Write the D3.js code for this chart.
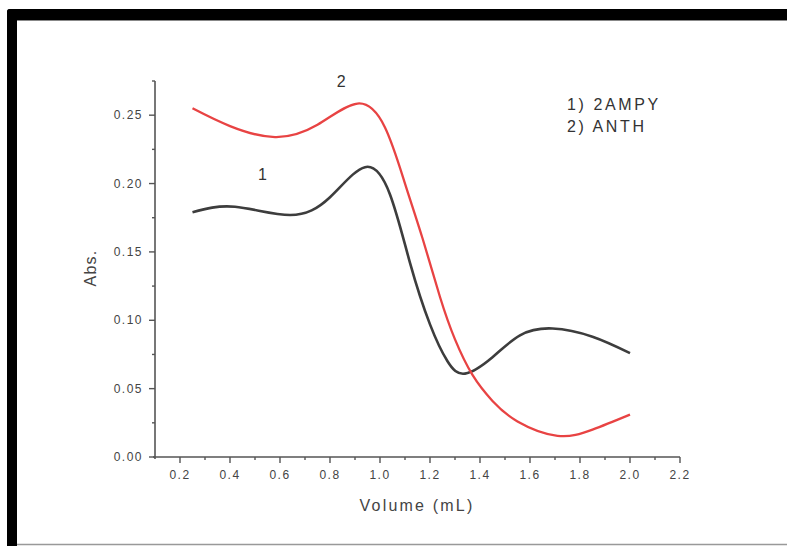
<!DOCTYPE html>
<html>
<head>
<meta charset="utf-8">
<script src="https://cdn.jsdelivr.net/npm/d3@7"></script>
<style>
  body { margin: 0; background: #fff; }
  text { font-family: "Liberation Sans", Arial, sans-serif; }
</style>
</head>
<body>
<div id="chart"></div>
<script>
// series
var volume2ampy = [0.25, 0.42, 0.64, 0.80, 0.94, 1.04, 1.12, 1.20, 1.27, 1.34, 1.45, 1.56, 1.69, 1.85, 2.00];
var abs2ampy    = [0.179, 0.183, 0.177, 0.190, 0.212, 0.192, 0.142, 0.097, 0.070, 0.061, 0.073, 0.089, 0.094, 0.088, 0.076];

var volumeAnth = [0.25, 0.40, 0.58, 0.75, 0.91, 1.02, 1.10, 1.17, 1.24, 1.30, 1.37, 1.45, 1.55, 1.71, 1.85, 2.00];
var absAnth    = [0.255, 0.242, 0.234, 0.243, 0.2585, 0.241, 0.200, 0.160, 0.117, 0.086, 0.060, 0.041, 0.026, 0.0155, 0.020, 0.031];

var xTicks = [0.2, 0.4, 0.6, 0.8, 1.0, 1.2, 1.4, 1.6, 1.8, 2.0, 2.2];
var yTicks = [0.00, 0.05, 0.10, 0.15, 0.20, 0.25];
var legendLines = ["1) 2AMPY", "2) ANTH"];

var width = 787, height = 546;
var margin = {top: 81, left: 155, right: 107, bottom: 89};

var svg = d3.select("#chart").append("svg")
    .attr("width", width)
    .attr("height", height);

// frame: thick black top and left bar, thin grey bottom line
svg.append("rect").attr("x", 7).attr("y", 9).attr("width", width).attr("height", 11)
    .attr("rx", 3).attr("fill", "#000");
svg.append("rect").attr("x", 7).attr("y", 9).attr("width", 10).attr("height", height)
    .attr("rx", 3).attr("fill", "#000");
svg.append("line").attr("x1", 17).attr("x2", width).attr("y1", 20.5).attr("y2", 20.5)
    .attr("stroke", "#888").attr("stroke-width", 1);
svg.append("line").attr("x1", 17).attr("x2", width).attr("y1", 544.5).attr("y2", 544.5)
    .attr("stroke", "#999").attr("stroke-width", 1.5);

var x = d3.scaleLinear().domain([0.1, 2.2]).range([margin.left, width - margin.right]);
var y = d3.scaleLinear().domain([0, 0.275]).range([height - margin.bottom, margin.top]);

var axisColor = "#555";
var labelColor = "#444";

// x axis
var xAxis = svg.append("g").attr("transform", "translate(0," + y(0) + ")");
xAxis.append("line").attr("x1", x(0.1) - 2).attr("x2", x(2.2))
    .attr("stroke", axisColor).attr("stroke-width", 1.6);
var xMinor = d3.range(0.3, 2.2, 0.2);
xAxis.selectAll(".xminor").data(xMinor).enter().append("line")
    .attr("x1", d => x(d)).attr("x2", d => x(d)).attr("y1", 0).attr("y2", 3)
    .attr("stroke", axisColor).attr("stroke-width", 1.4);
xAxis.selectAll(".xmajor").data(xTicks).enter().append("line")
    .attr("x1", d => x(d)).attr("x2", d => x(d)).attr("y1", 0).attr("y2", 6)
    .attr("stroke", axisColor).attr("stroke-width", 1.4);
xAxis.selectAll(".xlabel").data(xTicks).enter().append("text")
    .attr("x", d => x(d)).attr("y", 22)
    .attr("text-anchor", "middle")
    .attr("font-size", 12).attr("letter-spacing", 1.5)
    .attr("fill", labelColor)
    .text(d => d.toFixed(1));

// y axis
var yAxis = svg.append("g").attr("transform", "translate(" + x(0.1) + ",0)");
yAxis.append("line").attr("y1", y(0.275)).attr("y2", y(0) + 2)
    .attr("stroke", axisColor).attr("stroke-width", 1.6);
var yMinor = d3.range(0.025, 0.3, 0.05);
yAxis.selectAll(".yminor").data(yMinor).enter().append("line")
    .attr("y1", d => y(d)).attr("y2", d => y(d)).attr("x1", 0).attr("x2", -3)
    .attr("stroke", axisColor).attr("stroke-width", 1.4);
yAxis.selectAll(".ymajor").data(yTicks).enter().append("line")
    .attr("y1", d => y(d)).attr("y2", d => y(d)).attr("x1", 0).attr("x2", -6)
    .attr("stroke", axisColor).attr("stroke-width", 1.4);
yAxis.selectAll(".ylabel").data(yTicks).enter().append("text")
    .attr("x", -12).attr("y", d => y(d) + 4)
    .attr("text-anchor", "end")
    .attr("font-size", 12).attr("letter-spacing", 1.5)
    .attr("fill", labelColor)
    .text(d => d.toFixed(2));

// axis titles
svg.append("text")
    .attr("x", 417).attr("y", 511)
    .attr("text-anchor", "middle")
    .attr("font-size", 16).attr("letter-spacing", 2.2)
    .attr("fill", labelColor)
    .text("Volume (mL)");
svg.append("text")
    .attr("transform", "translate(96," + 268 + ") rotate(-90)")
    .attr("text-anchor", "middle")
    .attr("font-size", 16).attr("letter-spacing", 1.2)
    .attr("fill", labelColor)
    .text("Abs.");

// curves
var line = d3.line()
    .x(d => x(d[0]))
    .y(d => y(d[1]))
    .curve(d3.curveNatural);

svg.append("path")
    .datum(d3.zip(volume2ampy, abs2ampy))
    .attr("d", line)
    .attr("fill", "none")
    .attr("stroke", "#3d3d3d")
    .attr("stroke-width", 2.6);

svg.append("path")
    .datum(d3.zip(volumeAnth, absAnth))
    .attr("d", line)
    .attr("fill", "none")
    .attr("stroke", "#e84343")
    .attr("stroke-width", 2.3);

// curve numbers
svg.append("text").attr("x", x(0.53)).attr("y", y(0.2025))
    .attr("text-anchor", "middle").attr("font-size", 16).attr("fill", "#333")
    .text("1");
svg.append("text").attr("x", x(0.845)).attr("y", y(0.2705))
    .attr("text-anchor", "middle").attr("font-size", 16).attr("fill", "#333")
    .text("2");

// legend text
svg.selectAll(".legend").data(legendLines).enter().append("text")
    .attr("x", 567).attr("y", (d, i) => 110 + i * 22)
    .attr("font-size", 16).attr("letter-spacing", 2.6)
    .attr("fill", "#333")
    .text(d => d);
</script>
</body>
</html>
